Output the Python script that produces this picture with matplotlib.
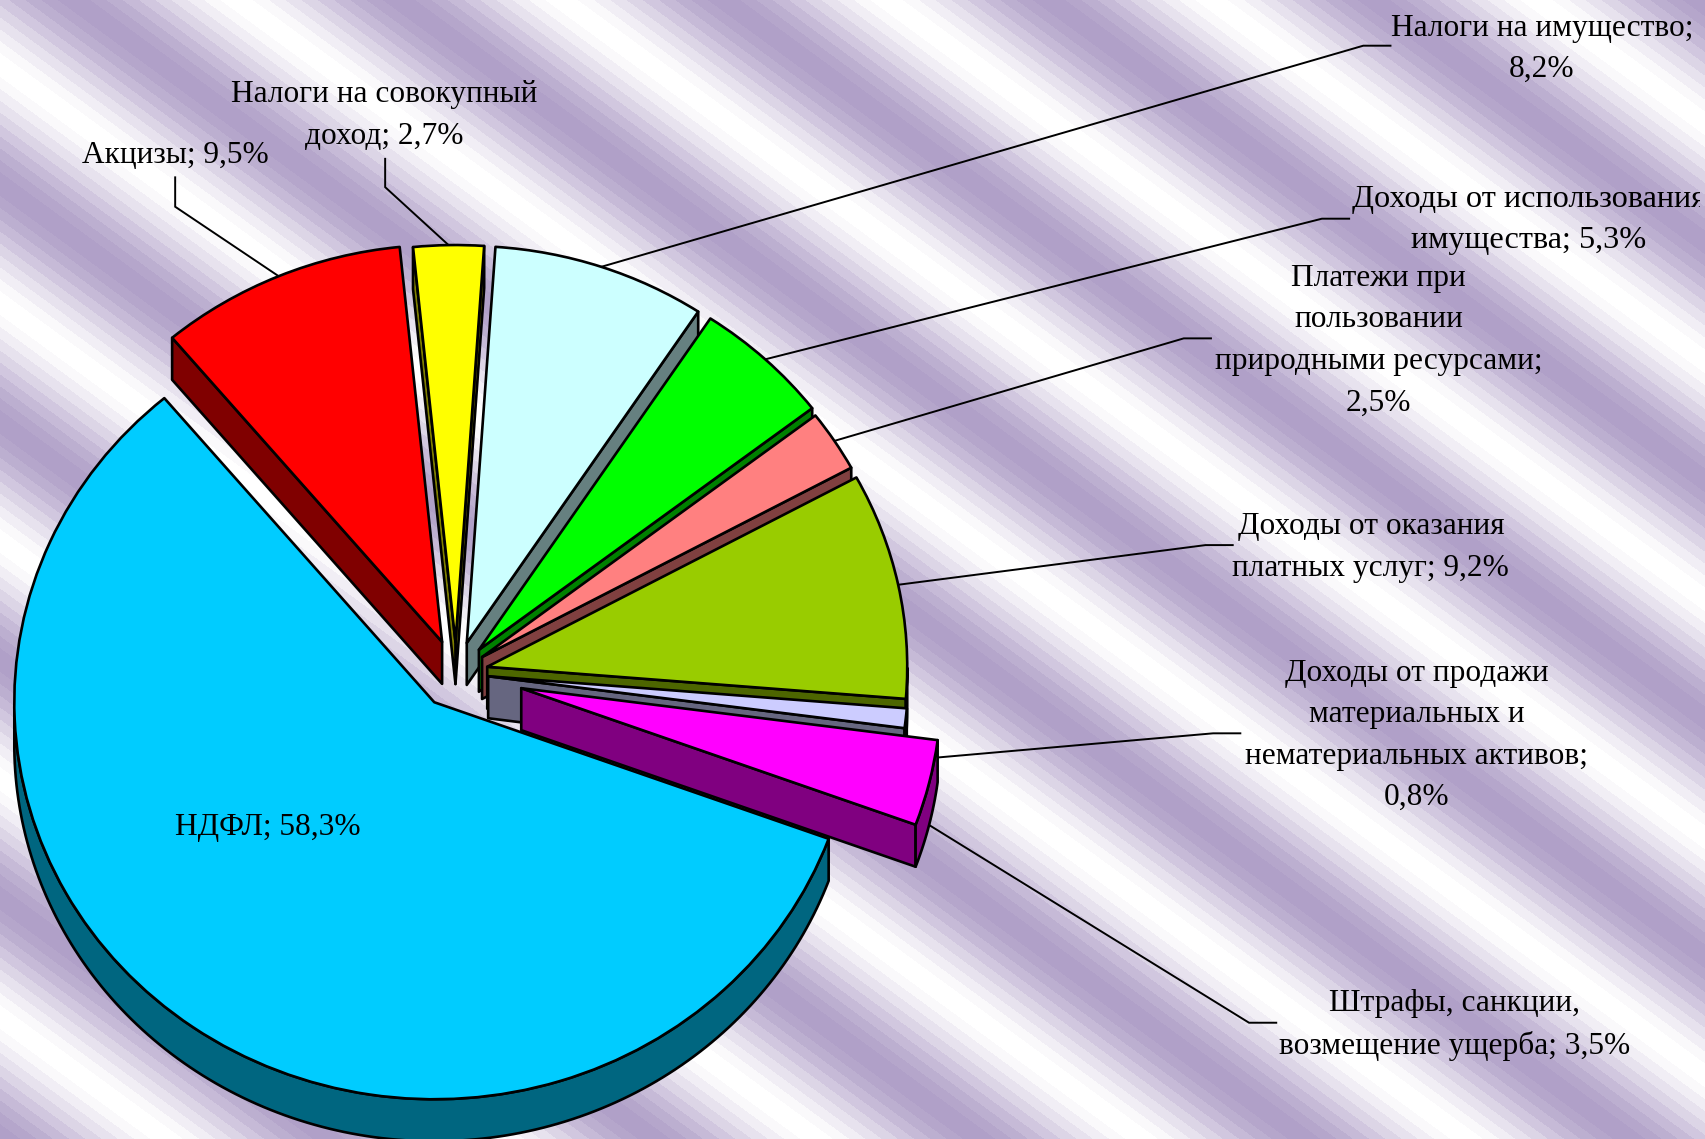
import numpy as np
import matplotlib
matplotlib.use("Agg")
import matplotlib.pyplot as plt
from matplotlib.patches import Polygon
from matplotlib.colors import ListedColormap
from matplotlib.transforms import Bbox

categories = ["Акцизы", "Налоги на совокупный\nдоход", "Налоги на имущество;\n", "Доходы от использования\nимущества",
              "Платежи при\nпользовании\nприродными ресурсами;\n", "Доходы от оказания\nплатных услуг",
              "Доходы от продажи\nматериальных и\nнематериальных активов;\n", "Штрафы, санкции,\nвозмещение ущерба", "НДФЛ"]
values = [9.5, 2.7, 8.2, 5.3, 2.5, 9.2, 0.8, 3.5, 58.3]
value_labels = ["9,5%", "2,7%", "8,2%", "5,3%", "2,5%", "9,2%", "0,8%", "3,5%", "58,3%"]
top_colors = ["#FF0000", "#FFFF00", "#CCFFFF", "#00FF00", "#FF8080", "#99CC00", "#CCCCFF", "#FF00FF", "#00CCFF"]
side_colors = ["#800000", "#808000", "#668080", "#008000", "#804040", "#4D6600", "#666680", "#800080", "#006680"]
explode = [0.085, 0.078, 0.08, 0.08, 0.074, 0.076, 0.077, 0.16, 0.09]

W, H = 1706, 1139
CX, CY, RX, RY, DEPTH = 456, 673, 420, 397, 42
S = 1706 / 1568
FS = 22.6
SERIF = "Liberation Serif"
LW = 1.9

fig = plt.figure(figsize=(W / 100, H / 100), dpi=100)
bg = fig.add_axes([0, 0, 1, 1], zorder=0)
bg.set_axis_off()
xx, yy = np.meshgrid(np.arange(W), np.arange(H))
phase = (xx / 325.0 - yy / 238.0 + 0.272) % 1.0
tri = 1 - np.abs(2 * phase - 1)
ramp = np.array([0, .06, .17, .30, .44, .58, .72, .84, .93, 1.0])
N = len(ramp)
band = np.minimum(np.floor(tri * N), N - 1)
white, purple = np.array([1.0, 1.0, 1.0]), np.array([176, 160, 200]) / 255
cm = ListedColormap([white + f * (purple - white) for f in ramp])
bg.imshow(band, cmap=cm, vmin=-0.5, vmax=N - 0.5, aspect="auto", extent=(0, W, H, 0), interpolation="nearest")

ax = fig.add_axes([0, 0, 1, 1], zorder=1)
ax.patch.set_alpha(0)
wedges, _ = ax.pie(values, explode=explode, startangle=130, counterclock=False, colors=top_colors,
                   radius=1.0, wedgeprops=dict(edgecolor="black", linewidth=LW, joinstyle="round"))
ax.set_aspect("auto")
ax.set_xlim(-CX / RX, (W - CX) / RX)
ax.set_ylim(-(H - CY) / RY, CY / RY)
ax.set_axis_off()
dy = DEPTH / RY


def add_face(pts, color, z):
    ax.add_patch(Polygon(pts, closed=True, facecolor=color, edgecolor="black", linewidth=LW, zorder=z, joinstyle="round"))


z = 3
for w, sc in zip(wedges, side_colors):
    cx, cy = w.center
    a1, a2 = w.theta1, w.theta2
    p1 = (cx + w.r * np.cos(np.radians(a1)), cy + w.r * np.sin(np.radians(a1)))
    p2 = (cx + w.r * np.cos(np.radians(a2)), cy + w.r * np.sin(np.radians(a2)))
    # a cut face shows only when its outward normal points down
    if np.sin(np.radians(a1 - 90)) < 0:
        add_face([(cx, cy), p1, (p1[0], p1[1] - dy), (cx, cy - dy)], sc, z)
    if np.sin(np.radians(a2 + 90)) < 0:
        add_face([(cx, cy), p2, (p2[0], p2[1] - dy), (cx, cy - dy)], sc, z)
    # the outer rim shows only where the arc faces down
    t = np.radians(np.linspace(a1, a2, 200))
    t = t[np.sin(t) < 0.0]
    if t.size > 1:
        x = cx + w.r * np.cos(t)
        y = cy + w.r * np.sin(t)
        add_face(np.r_[np.c_[x, y], np.c_[x[::-1], y[::-1] - dy]], sc, z)
    w.set_zorder(z + 1)
    z += 2


def px(x, y):
    return ((x * S - CX) / RX, (CY - y * S) / RY)


# leader elbows and label centres in the 1568-wide view of the reference
leaders = [[(161, 190), (161, 163)], [(354, 172), (354, 146)], [(1253, 42), (1278, 42)], [(1215, 201), (1240, 201)],
           [(1088, 311), (1113, 311)], [(1108, 501), (1133, 501)], [(1115, 674), (1140, 674)], [(1148, 940), (1173, 940)], None]
use_depth = [False, False, False, False, False, False, True, True, False]
label_pos = [(161, 143), (353, 106), (1417, 45), (1405, 202), (1267, 313), (1260, 503), (1302, 676), (1337, 942), (246, 761)]
label_fs = [FS, FS, FS, 23.2, FS, FS, FS, FS, FS]
clip = Bbox([[0, 0], [1700, H]])

for i, w in enumerate(wedges):
    mid = np.radians((w.theta1 + w.theta2) / 2)
    ax_x = w.center[0] + w.r * np.cos(mid)
    ax_y = w.center[1] + w.r * np.sin(mid) - (dy if use_depth[i] else 0)
    if leaders[i]:
        pts = [(ax_x, ax_y)] + [px(*p) for p in leaders[i]]
        ax.plot(*zip(*pts), color="black", lw=1.4, zorder=2, solid_joinstyle="miter")
    c = categories[i]
    sep = "" if c.endswith("\n") else "; "
    t = ax.text(*px(*label_pos[i]), c + sep + value_labels[i], ha="center", va="center", family=SERIF,
                fontsize=label_fs[i], color="black", linespacing=1.57, zorder=40, multialignment="center")
    t.set_clip_box(clip)
    t.set_clip_on(True)

fig.savefig("out.png", dpi=100)
